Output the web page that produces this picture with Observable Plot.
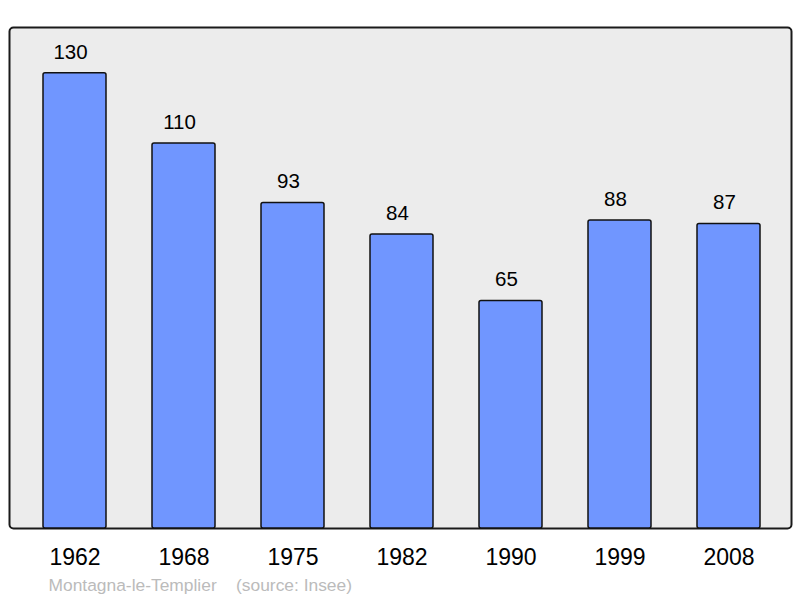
<!DOCTYPE html>
<html>
<head>
<meta charset="utf-8">
<script src="https://cdn.jsdelivr.net/npm/d3@7"></script>
<script src="https://cdn.jsdelivr.net/npm/@observablehq/plot@0.6"></script>
<style>
  html, body { margin: 0; padding: 0; background: #ffffff; }
  #chart svg { display: block; font-family: "Liberation Sans", Arial, sans-serif; }
</style>
</head>
<body>
<div id="chart"></div>
<script>
const years = ["1962", "1968", "1975", "1982", "1990", "1999", "2008"];
const population = [130, 110, 93, 84, 65, 88, 87];
const caption = "Montagna-le-Templier    (source: Insee)";

const data = years.map((y, i) => ({year: y, pop: population[i]}));

const chart = Plot.plot({
  width: 800,
  height: 598,
  marginTop: 27,
  marginBottom: 70,
  marginLeft: 9,
  marginRight: 9,
  style: {fontFamily: "'Liberation Sans', Arial, sans-serif", background: "#ffffff"},
  x: {domain: years, paddingInner: 0.424, paddingOuter: 0.288, align: 0.524, axis: null},
  y: {domain: [0, 143.1], axis: null},
  marks: [
    Plot.frame({fill: "#ececec", stroke: "#1a1a1a", strokeWidth: 2, rx: 4}),
    Plot.barY(data, {x: "year", y: "pop", fill: "#7096ff", stroke: "#111111", strokeWidth: 1.5, rx: 2}),
    Plot.text(data, {x: "year", y: "pop", text: d => String(d.pop), dy: -21, dx: -4.5, fontSize: 20.5, fill: "#000", lineAnchor: "middle"}),
    Plot.text(data, {x: "year", y: 0, text: "year", dy: 29, fontSize: 23, fill: "#000", lineAnchor: "middle"}),
    Plot.text([caption], {frameAnchor: "bottom-left", text: d => d, dx: 39, dy: 57, fontSize: 17.4, fill: "#bbbbbb", textAnchor: "start", lineAnchor: "middle"})
  ]
});
document.getElementById("chart").appendChild(chart);
</script>
</body>
</html>
